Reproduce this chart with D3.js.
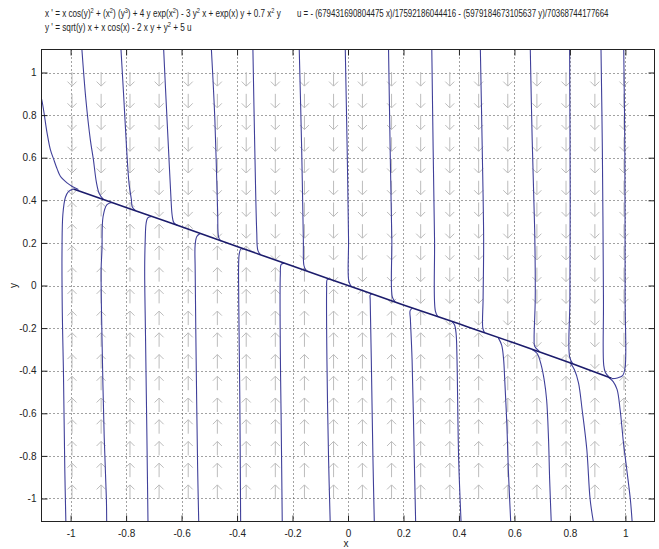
<!DOCTYPE html>
<meta charset="utf-8">
<head>
<script src="https://d3js.org/d3.v7.min.js"></script>
<style>
body { margin: 0; background: #fff; }
text { font-family: "Liberation Sans", Arial, sans-serif; fill: #222; }
.traj { fill: none; stroke: #40409a; stroke-width: 1.1; }
.slow { fill: none; stroke: #1c1c6c; stroke-width: 1.6; }
.arrow { fill: none; stroke: #bcbcbc; stroke-width: 1; }
.grid line { stroke: #444; stroke-width: 1; stroke-dasharray: 1,3; }
</style>
</head>
<body>
<script>
// tick values of both axes
var xTicks = [-1, -0.8, -0.6, -0.4, -0.2, 0, 0.2, 0.4, 0.6, 0.8, 1];
var yTicks = [-1, -0.8, -0.6, -0.4, -0.2, 0, 0.2, 0.4, 0.6, 0.8, 1];

// direction field grid (arrow centres)
var arrowX = [-0.995, -0.890, -0.786, -0.681, -0.576, -0.471, -0.367, -0.262, -0.157, -0.052,
              0.052, 0.157, 0.262, 0.367, 0.471, 0.576, 0.681, 0.786, 0.890, 0.995];
var arrowY = [0.969, 0.867, 0.765, 0.663, 0.561, 0.459, 0.357, 0.255, 0.153, 0.051,
              -0.051, -0.153, -0.255, -0.357, -0.459, -0.561, -0.663, -0.765, -0.867, -0.969];

// slow line where all the orbits meet
var slowX = [-0.99, -0.8, -0.6, -0.4, -0.2, 0, 0.2, 0.4, 0.6, 0.8, 0.95];
var slowY = [0.453, 0.366, 0.276, 0.183, 0.091, 0, -0.091, -0.18, -0.27, -0.363, -0.436];

// orbits coming down from the top (and the one from the left edge)
var trajAbove = [
    [[-1.12, 0.95], [-1.103, 0.865], [-1.085, 0.717], [-1.073, 0.638], [-1.061, 0.592], [-1.048, 0.545], [-1.037, 0.513], [-1.013, 0.482], [-0.994, 0.465], [-0.972, 0.451]],
    [[-0.960, 1.12], [-0.945, 0.873], [-0.929, 0.685], [-0.918, 0.592], [-0.907, 0.484], [-0.897, 0.432], [-0.882, 0.404]],
    [[-0.819, 1.12], [-0.808, 0.873], [-0.798, 0.638], [-0.789, 0.474], [-0.781, 0.404], [-0.778, 0.37], [-0.767, 0.352]],
    [[-0.665, 1.12], [-0.656, 0.873], [-0.647, 0.638], [-0.638, 0.404], [-0.634, 0.33], [-0.628, 0.295], [-0.615, 0.283]],
    [[-0.493, 1.12], [-0.480, 0.779], [-0.470, 0.35], [-0.466, 0.225], [-0.458, 0.209]],
    [[-0.343, 1.12], [-0.336, 0.638], [-0.329, 0.25], [-0.325, 0.165], [-0.316, 0.146]],
    [[-0.176, 1.12], [-0.167, 0.638], [-0.161, 0.216], [-0.159, 0.095], [-0.152, 0.071]],
    [[-0.010, 1.12], [-0.003, 0.638], [0.002, 0.216], [0.003, 0.02], [0.012, -0.005]],
    [[0.146, 1.12], [0.152, 0.638], [0.158, 0.216], [0.160, -0.055], [0.170, -0.077]],
    [[0.302, 1.12], [0.307, 0.638], [0.312, 0.216], [0.315, -0.12], [0.324, -0.146]],
    [[0.477, 1.12], [0.484, 0.638], [0.489, 0.216], [0.487, -0.066], [0.486, -0.2], [0.492, -0.221]],
    [[0.657, 1.12], [0.664, 0.685], [0.673, 0.263], [0.675, -0.066], [0.671, -0.25], [0.673, -0.285], [0.69, -0.309]],
    [[0.799, 1.12], [0.801, 0.404], [0.800, -0.066], [0.799, -0.335], [0.810, -0.367]],
    [[0.912, 1.12], [0.917, 0.638], [0.921, -0.066], [0.922, -0.375], [0.928, -0.408], [0.94, -0.428]],
    [[0.994, 1.12], [0.998, 0.638], [0.999, -0.066], [0.999, -0.385], [0.990, -0.423], [0.971, -0.434], [0.951, -0.437]]
];

// orbits coming up from the bottom
var trajBelow = [
    [[-1.017, -1.12], [-1.021, -0.864], [-1.026, -0.394], [-1.030, -0.127], [-1.031, 0.169], [-1.028, 0.333], [-1.019, 0.413], [-1.008, 0.441], [-0.990, 0.453]],
    [[-0.870, -1.12], [-0.871, -1.005], [-0.879, -0.708], [-0.887, -0.238], [-0.890, 0.075], [-0.887, 0.169], [-0.883, 0.324], [-0.869, 0.380], [-0.851, 0.390]],
    [[-0.721, -1.12], [-0.725, -0.708], [-0.730, -0.238], [-0.733, 0.075], [-0.731, 0.216], [-0.728, 0.29], [-0.722, 0.318], [-0.708, 0.324]],
    [[-0.538, -1.12], [-0.542, -0.864], [-0.547, -0.394], [-0.551, 0.075], [-0.551, 0.192], [-0.545, 0.23], [-0.533, 0.244]],
    [[-0.387, -1.12], [-0.390, -0.535], [-0.394, -0.066], [-0.392, 0.15], [-0.386, 0.172], [-0.376, 0.172]],
    [[-0.237, -1.12], [-0.241, -0.629], [-0.244, -0.300], [-0.244, 0.052], [-0.241, 0.099], [-0.230, 0.105]],
    [[-0.064, -1.12], [-0.070, -0.817], [-0.076, -0.347], [-0.077, -0.019], [-0.075, 0.028], [-0.068, 0.031]],
    [[0.095, -1.12], [0.090, -0.817], [0.084, -0.347], [0.080, -0.066], [0.080, -0.045], [0.087, -0.039]],
    [[0.244, -1.12], [0.239, -0.817], [0.231, -0.347], [0.225, -0.160], [0.224, -0.118], [0.232, -0.106]],
    [[0.408, -1.12], [0.399, -0.817], [0.393, -0.347], [0.390, -0.230], [0.385, -0.188], [0.376, -0.171]],
    [[0.587, -1.12], [0.578, -0.864], [0.573, -0.661], [0.565, -0.441], [0.561, -0.347], [0.554, -0.28], [0.542, -0.246]],
    [[0.733, -1.12], [0.727, -0.911], [0.723, -0.723], [0.716, -0.535], [0.707, -0.441], [0.697, -0.376], [0.682, -0.319], [0.664, -0.300]],
    [[0.886, -1.12], [0.873, -1.005], [0.861, -0.770], [0.844, -0.582], [0.831, -0.457], [0.816, -0.394], [0.801, -0.363]],
    [[1.025, -1.12], [1.018, -1.005], [1.005, -0.864], [0.993, -0.737], [0.981, -0.582], [0.970, -0.488], [0.956, -0.451], [0.940, -0.432]]
];

// equation texts, [text, superscript?]
var eqLineX = [["x ' = x cos(y)"], ["2", 1], [" + (x"], ["2", 1], [") (y"], ["3", 1], [") + 4 y exp(x"], ["2", 1],
               [") - 3 y"], ["2", 1], [" x + exp(x) y + 0.7 x"], ["2", 1], [" y"]];
var eqLineY = [["y ' = sqrt(y) x + x cos(x) - 2 x y + y"], ["2", 1], [" + 5 u"]];
var eqLineU = [["u = - (679431690804475 x)/17592186044416 - (5979184673105637 y)/70368744177664"]];

// layout
var width = 659, height = 549;
var plot = { left: 41.5, right: 654.5, top: 49.5, bottom: 521.5 };

var x = d3.scaleLinear().domain([-1.105, 1.105]).range([plot.left, plot.right]);
var y = d3.scaleLinear().domain([-1.108, 1.108]).range([plot.bottom, plot.top]);
var slowAt = d3.scaleLinear().domain(slowX).range(slowY);

var svg = d3.select("body").append("svg")
    .attr("width", width)
    .attr("height", height);

svg.append("clipPath").attr("id", "clip")
  .append("rect")
    .attr("x", plot.left).attr("y", plot.top)
    .attr("width", plot.right - plot.left)
    .attr("height", plot.bottom - plot.top);

/*** dotted grid ***/
var grid = svg.append("g").attr("class", "grid");
grid.selectAll(".gx").data(xTicks).enter().append("line")
    .attr("x1", function(d) { return Math.round(x(d)) + 0.5; })
    .attr("x2", function(d) { return Math.round(x(d)) + 0.5; })
    .attr("y1", plot.top).attr("y2", plot.bottom);
grid.selectAll(".gy").data(yTicks).enter().append("line")
    .attr("y1", function(d) { return Math.round(y(d)) + 0.5; })
    .attr("y2", function(d) { return Math.round(y(d)) + 0.5; })
    .attr("x1", plot.left).attr("x2", plot.right);

/*** direction field ***/
var field = [];
arrowX.forEach(function(ax) {
    arrowY.forEach(function(ay) {
        field.push({ x: ax, y: ay, dir: ay > slowAt(ax) ? 1 : -1 });
    });
});
var half = 7, head = 4.5;
svg.append("g").selectAll("path").data(field).enter().append("path")
    .attr("class", "arrow")
    .attr("d", function(d) {
        var cx = x(d.x), cy = y(d.y), tip = cy + d.dir * half;
        return "M" + cx + "," + (cy - d.dir * half) + "L" + cx + "," + tip +
               "M" + (cx - head) + "," + (tip - d.dir * head) + "L" + cx + "," + tip +
               "L" + (cx + head) + "," + (tip - d.dir * head);
    });

/*** orbits ***/
var line = d3.line()
    .x(function(d) { return x(d[0]); })
    .y(function(d) { return y(d[1]); })
    .curve(d3.curveCatmullRom.alpha(0.5));

var orbits = svg.append("g").attr("clip-path", "url(#clip)");
orbits.selectAll(".traj").data(trajAbove.concat(trajBelow)).enter().append("path")
    .attr("class", "traj")
    .attr("d", line);
orbits.append("path")
    .attr("class", "slow")
    .attr("d", line(slowX.map(function(v, i) { return [v, slowY[i]]; })));

/*** axes, ticks inside ***/
var fmt = function(d) { return String(d); };
function styleAxis(g) {
    g.select(".domain").remove();
    g.selectAll(".tick line").attr("stroke", "#222");
    g.selectAll("text").attr("font-family", "Liberation Sans, Arial, sans-serif")
        .attr("font-size", 10).attr("fill", "#222");
}
svg.append("g").attr("transform", "translate(0," + plot.bottom + ")")
    .call(d3.axisBottom(x).tickValues(xTicks).tickFormat(fmt).tickSize(-6).tickPadding(8))
    .call(styleAxis);
svg.append("g").attr("transform", "translate(0," + plot.top + ")")
    .call(d3.axisTop(x).tickValues(xTicks).tickFormat("").tickSize(-6))
    .call(styleAxis);
svg.append("g").attr("transform", "translate(" + plot.left + ",0)")
    .call(d3.axisLeft(y).tickValues(yTicks).tickFormat(fmt).tickSize(-6).tickPadding(5))
    .call(styleAxis);
svg.append("g").attr("transform", "translate(" + plot.right + ",0)")
    .call(d3.axisRight(y).tickValues(yTicks).tickFormat("").tickSize(-6))
    .call(styleAxis);

// box
svg.append("rect")
    .attr("x", plot.left).attr("y", plot.top)
    .attr("width", plot.right - plot.left)
    .attr("height", plot.bottom - plot.top)
    .attr("fill", "none").attr("stroke", "#222");

/*** axis titles ***/
svg.append("text")
    .attr("x", x(0) - 2).attr("y", 547)
    .attr("text-anchor", "middle").attr("font-size", 10)
    .text("x");
svg.append("text")
    .attr("transform", "translate(17," + y(0) + ") rotate(-90)")
    .attr("text-anchor", "middle").attr("font-size", 10)
    .text("y");

/*** equations on top ***/
function eqText(parts, x0, y0, w) {
    var t = svg.append("text").attr("font-size", 10);
    var up = false;
    parts.forEach(function(p) {
        var s = t.append("tspan").text(p[0]);
        if (p[1]) { s.attr("font-size", 7).attr("dy", up ? 0 : -4); up = true; }
        else if (up) { s.attr("dy", 4); up = false; }
    });
    var len = t.node().getComputedTextLength();
    t.attr("transform", "translate(" + x0 + "," + y0 + ") scale(" + (w / len) + ",1)");
}
eqText(eqLineX, 45, 17, 236);
eqText(eqLineY, 45, 31, 147);
eqText(eqLineU, 297, 17, 312);
</script>
</body>
</html>
